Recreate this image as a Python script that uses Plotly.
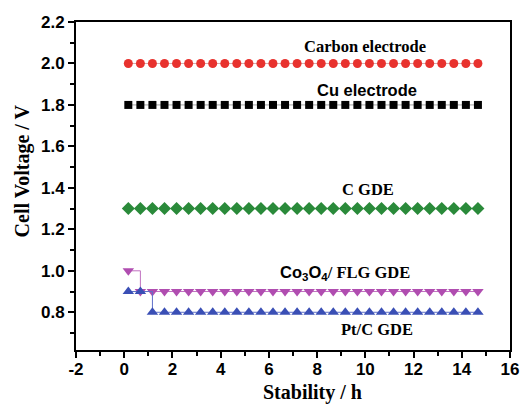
import plotly.graph_objects as go

x_time = [0.17, 0.67, 1.17, 1.67, 2.17, 2.67, 3.17, 3.67, 4.17, 4.67,
          5.17, 5.67, 6.17, 6.67, 7.17, 7.67, 8.17, 8.67, 9.17, 9.67,
          10.17, 10.67, 11.17, 11.67, 12.17, 12.67, 13.17, 13.67, 14.17, 14.67]
carbon = [2.0] * 30
cu = [1.8] * 30
c_gde = [1.3] * 30
co3o4 = [1.0] + [0.9] * 29
ptc = [0.9, 0.9] + [0.8] * 28

x_ticks = [-2, 0, 2, 4, 6, 8, 10, 12, 14, 16]
x_ticktext = ["-2", "0", "2", "4", "6", "8", "10", "12", "14", "16"]
y_ticks = [0.8, 1.0, 1.2, 1.4, 1.6, 1.8, 2.0, 2.2]
y_ticktext = ["0.8", "1.0", "1.2", "1.4", "1.6", "1.8", "2.0", "2.2"]

series = [
    ("Carbon electrode", carbon, "#e8322e", "rgba(200,150,150,0.8)", "circle", 9),
    ("Cu electrode", cu, "#000000", "rgba(140,140,140,0.8)", "square", 8),
    ("C GDE", c_gde, "#2a8a3a", "rgba(150,190,150,0.8)", "diamond", 10),
    ("Co3O4/FLG GDE", co3o4, "#b04db0", "#c070c0", "triangle-down", 10),
    ("Pt/C GDE", ptc, "#3a4fb5", "#6070c8", "triangle-up", 10),
]

fig = go.Figure()
for name, ys, mc, lc, sym, sz in series:
    fig.add_trace(go.Scatter(
        x=x_time, y=ys, mode="lines+markers", name=name,
        line=dict(color=lc, width=1, shape="hv"),
        marker=dict(symbol=sym, size=sz, color=mc, line=dict(width=0)),
    ))

serif = "Times New Roman, Liberation Serif, serif"
sans = "Arial, Liberation Sans, sans-serif"

annots = [
    (10.0, 2.08, "<b>Carbon electrode</b>", serif),
    (10.07, 1.872, "<b>Cu electrode</b>", sans),
    (10.1, 1.39, "<b>C GDE</b>", serif),
    (9.17, 0.99, "<b><span style='font-family:Liberation Sans'>Co<sub>3</sub>O<sub>4</sub></span>/ FLG GDE</b>", serif),
    (10.5, 0.715, "<b>Pt/C GDE</b>", serif),
]
for ax, ay, txt, fam in annots:
    fig.add_annotation(x=ax, y=ay, text=txt, showarrow=False,
                       font=dict(family=fam, size=16.5, color="black"))

# axis titles
fig.add_annotation(xref="paper", yref="paper", x=0.544, y=-0.131,
                   xanchor="center", yanchor="middle", showarrow=False,
                   text="<b>Stability / h</b>",
                   font=dict(family=serif, size=20, color="black"))
fig.add_annotation(xref="paper", yref="paper", x=-0.124, y=0.545,
                   xanchor="center", yanchor="middle", showarrow=False,
                   textangle=-90, text="<b>Cell Voltage / V</b>",
                   font=dict(family=serif, size=20, color="black"))

fig.update_layout(
    width=531, height=404,
    margin=dict(l=76, r=21, t=22, b=54, autoexpand=False),
    paper_bgcolor="white", plot_bgcolor="white",
    showlegend=False,
)
fig.update_xaxes(
    range=[-2, 16], tickvals=x_ticks, ticktext=x_ticktext,
    showgrid=False, zeroline=False, automargin=False,
    showline=True, linecolor="black", linewidth=2, mirror=True,
    ticks="outside", ticklen=6, tickwidth=2, tickcolor="black",
    ticklabelstandoff=-3,
    minor=dict(dtick=1, ticks="outside", ticklen=4, tickwidth=1.5, tickcolor="black"),
    tickfont=dict(family=sans, size=17, color="black", weight="bold"),
)
fig.update_yaxes(
    range=[0.618, 2.2], tickvals=y_ticks, ticktext=y_ticktext,
    showgrid=False, zeroline=False, automargin=False,
    showline=True, linecolor="black", linewidth=2, mirror=True,
    ticks="outside", ticklen=6, tickwidth=2, tickcolor="black",
    minor=dict(tickvals=[0.7, 0.9, 1.1, 1.3, 1.5, 1.7, 1.9, 2.1], ticks="outside",
               ticklen=4, tickwidth=1.5, tickcolor="black"),
    tickfont=dict(family=sans, size=17, color="black", weight="bold"),
)
fig.write_html("out.html", config={"displayModeBar": False},
               post_script="document.body.style.margin='0px';")
